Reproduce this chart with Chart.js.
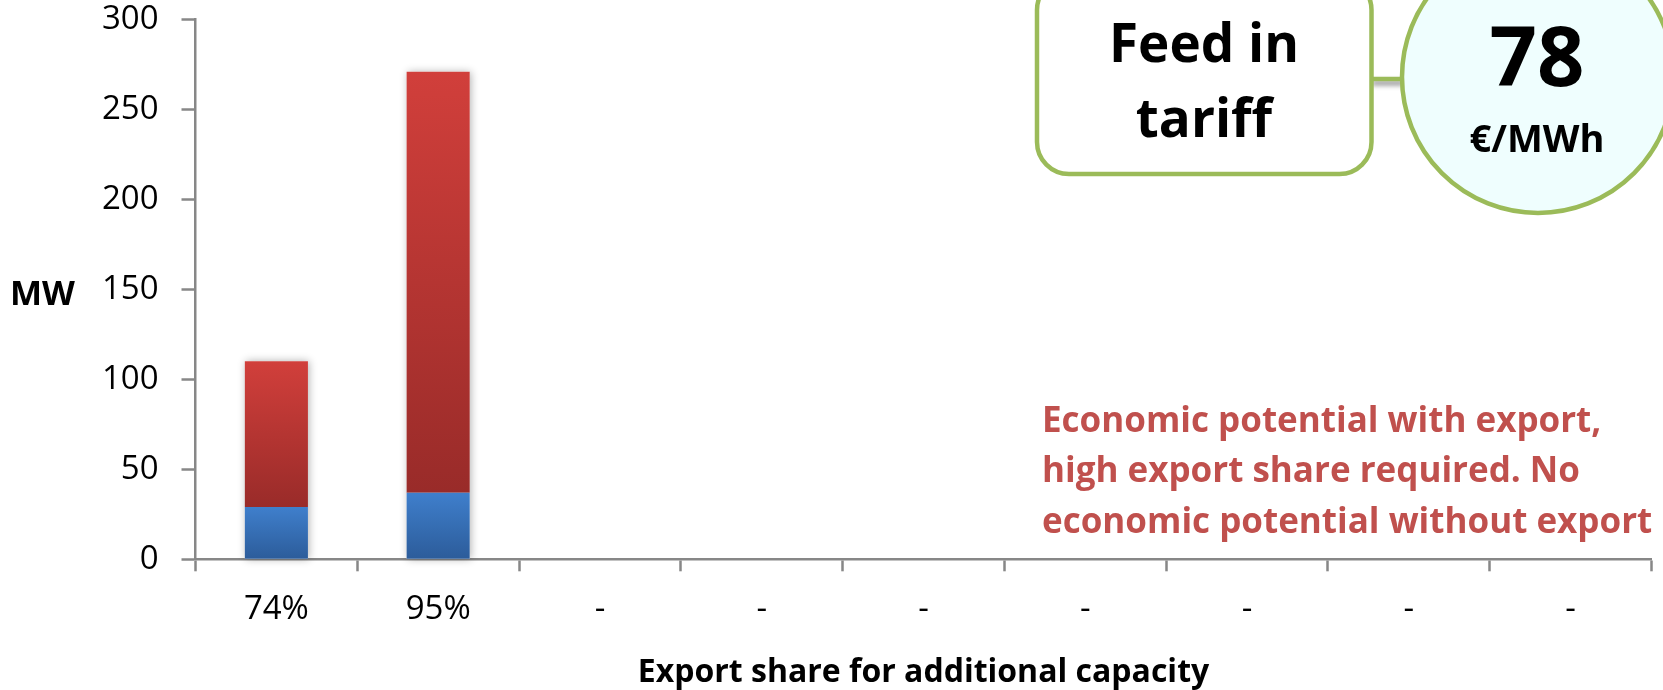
<!DOCTYPE html>
<html>
<head>
<meta charset="utf-8">
<title>Export share for additional capacity</title>
<script src="https://cdn.jsdelivr.net/npm/chart.js@4.4.1/dist/chart.umd.min.js"></script>
<style>
  html, body { margin: 0; padding: 0; background: #ffffff; }
  #wrap { position: relative; width: 1663px; height: 690px; }
</style>
</head>
<body>
<div id="wrap"><canvas id="chart"></canvas></div>
<script>
// Export share for each additional-capacity step (x categories)
const categories = ['74%', '95%', '-', '-', '-', '-', '-', '-', '-'];
// Capacity covered without export, MW (lower, blue segment)
const domesticMW = [29, 37, null, null, null, null, null, null, null];
// Extra capacity made economic by export, MW (upper, red segment)
const exportMW = [81, 234, null, null, null, null, null, null, null];
// Value axis ticks, MW
const yTicks = [0, 50, 100, 150, 200, 250, 300];

const FONT = "'Open Sans', 'Noto Sans', sans-serif";
const AXIS_GREY = '#878787';
const GREEN = '#9BBB59';
const NOTE_RED = '#C0504D';

const stackOrder = [domesticMW, exportMW];

// Vertical gradient spanning one stacked segment
function segmentFill(dsIndex, topColor, bottomColor) {
  return (c) => {
    const chart = c.chart;
    const ys = chart.scales ? chart.scales.y : null;
    if (c.type !== 'data' || !chart.chartArea || !ys) return bottomColor;
    const i = c.dataIndex;
    let lower = 0;
    for (let k = 0; k < dsIndex; k++) lower += stackOrder[k][i] || 0;
    const upper = lower + (stackOrder[dsIndex][i] || 0);
    const yTop = ys.getPixelForValue(upper);
    const yBot = ys.getPixelForValue(lower);
    if (!(yBot - yTop > 0.5)) return bottomColor;
    const g = chart.ctx.createLinearGradient(0, yTop, 0, yBot);
    g.addColorStop(0, topColor);
    g.addColorStop(1, bottomColor);
    return g;
  };
}

// Soft drop shadow behind each full stacked column
const columnShadow = {
  id: 'columnShadow',
  beforeDatasetsDraw(chart) {
    const ctx = chart.ctx;
    const metas = chart.getSortedVisibleDatasetMetas();
    ctx.save();
    ctx.shadowColor = 'rgba(0,0,0,0.30)';
    ctx.shadowBlur = 8;
    ctx.shadowOffsetX = 1;
    ctx.shadowOffsetY = 0;
    ctx.fillStyle = '#ffffff';
    categories.forEach((_, i) => {
      let top = Infinity, bottom = -Infinity, left = 0, right = 0;
      metas.forEach((m) => {
        const el = m.data[i];
        if (!el) return;
        const p = el.getProps(['x', 'y', 'base', 'width'], true);
        if (p.y == null || isNaN(p.y)) return;
        top = Math.min(top, p.y, p.base);
        bottom = Math.max(bottom, p.y, p.base);
        left = p.x - p.width / 2;
        right = p.x + p.width / 2;
      });
      if (isFinite(top) && bottom - top > 0.5) ctx.fillRect(left, top, right - left, bottom - top);
    });
    ctx.restore();
  }
};

// Unit label, tariff callout and commentary
const notes = {
  id: 'notes',
  afterDraw(chart) {
    const ctx = chart.ctx;
    ctx.save();

    // unit label beside the value axis
    ctx.fillStyle = '#000000';
    ctx.textAlign = 'left';
    ctx.textBaseline = 'alphabetic';
    ctx.font = 'bold 34px ' + FONT;
    ctx.fillText('MW', 10, 305);

    // connector between box and circle, with a soft shadow
    ctx.save();
    ctx.shadowColor = 'rgba(0,0,0,0.45)';
    ctx.shadowBlur = 5;
    ctx.shadowOffsetY = 4;
    ctx.strokeStyle = GREEN;
    ctx.lineWidth = 4.5;
    ctx.beginPath();
    ctx.moveTo(1372, 79);
    ctx.lineTo(1404, 79);
    ctx.stroke();
    ctx.restore();

    // rounded box "Feed in tariff"
    ctx.beginPath();
    ctx.roundRect(1037, -22, 334.5, 196, 32);
    ctx.fillStyle = '#ffffff';
    ctx.fill();
    ctx.strokeStyle = GREEN;
    ctx.lineWidth = 4.5;
    ctx.stroke();

    ctx.fillStyle = '#000000';
    ctx.textAlign = 'center';
    ctx.font = 'bold 53px ' + FONT;
    ctx.fillText('Feed in', 1204, 62);
    ctx.fillText('tariff', 1204, 137);

    // circle with the tariff level
    ctx.beginPath();
    ctx.arc(1538, 77, 136, 0, Math.PI * 2);
    ctx.fillStyle = '#EFFEFE';
    ctx.fill();
    ctx.strokeStyle = GREEN;
    ctx.lineWidth = 4.5;
    ctx.stroke();

    ctx.fillStyle = '#000000';
    ctx.font = 'bold 83px ' + FONT;
    ctx.fillText('78', 1537, 86);
    ctx.font = 'bold 38px ' + FONT;
    ctx.fillText('€/MWh', 1537, 152);

    // commentary
    ctx.fillStyle = NOTE_RED;
    ctx.textAlign = 'left';
    ctx.font = 'bold 35px ' + FONT;
    ctx.fillText('Economic potential with export,', 1042, 432);
    ctx.fillText('high export share required. No', 1042, 482);
    ctx.fillText('economic potential without export', 1042, 533);

    ctx.restore();
  }
};

new Chart(document.getElementById('chart'), {
  type: 'bar',
  data: {
    labels: categories,
    datasets: [
      {
        label: 'Without export',
        data: domesticMW,
        backgroundColor: segmentFill(0, '#3F7FCC', '#2C5C9A'),
        borderWidth: 0,
        barPercentage: 0.39,
        categoryPercentage: 1
      },
      {
        label: 'With export',
        data: exportMW,
        backgroundColor: segmentFill(1, '#D13F3B', '#992B29'),
        borderWidth: 0,
        barPercentage: 0.39,
        categoryPercentage: 1
      }
    ]
  },
  options: {
    responsive: true,
    maintainAspectRatio: false,
    animation: false,
    events: [],
    layout: { padding: { left: 0, right: 11.5, top: 19.5, bottom: 0 } },
    plugins: {
      legend: { display: false },
      tooltip: { enabled: false },
      title: { display: false }
    },
    scales: {
      x: {
        stacked: true,
        grid: {
          display: true,
          drawOnChartArea: false,
          drawTicks: true,
          tickLength: 12,
          tickWidth: 2.5,
          tickColor: AXIS_GREY,
          offset: true
        },
        border: { display: true, color: AXIS_GREY, width: 2.5 },
        ticks: {
          color: '#000000',
          font: { family: FONT, size: 33, lineHeight: 1.2 },
          padding: 18,
          maxRotation: 0,
          autoSkip: false
        },
        title: {
          display: true,
          text: 'Export share for additional capacity',
          color: '#000000',
          font: { family: FONT, size: 32, weight: 'bold', lineHeight: 1.1 },
          padding: { top: 0, bottom: 0 }
        },
        afterFit(scale) {
          scale.height = 130.7;
          scale.paddingLeft = 0;
          scale.paddingRight = 0;
        }
      },
      y: {
        stacked: true,
        min: 0,
        max: 300,
        afterBuildTicks(scale) { scale.ticks = yTicks.map((v) => ({ value: v })); },
        grid: {
          display: true,
          drawOnChartArea: false,
          drawTicks: true,
          tickLength: 14,
          tickWidth: 2.5,
          tickColor: AXIS_GREY
        },
        border: { display: true, color: AXIS_GREY, width: 2.5 },
        ticks: {
          color: '#000000',
          font: { family: FONT, size: 33, lineHeight: 1.0 },
          padding: 23
        },
        afterFit(scale) {
          scale.width = 195.5;
          scale.paddingTop = 0;
          scale.paddingBottom = 0;
        }
      }
    }
  },
  plugins: [columnShadow, notes]
});
</script>
</body>
</html>
